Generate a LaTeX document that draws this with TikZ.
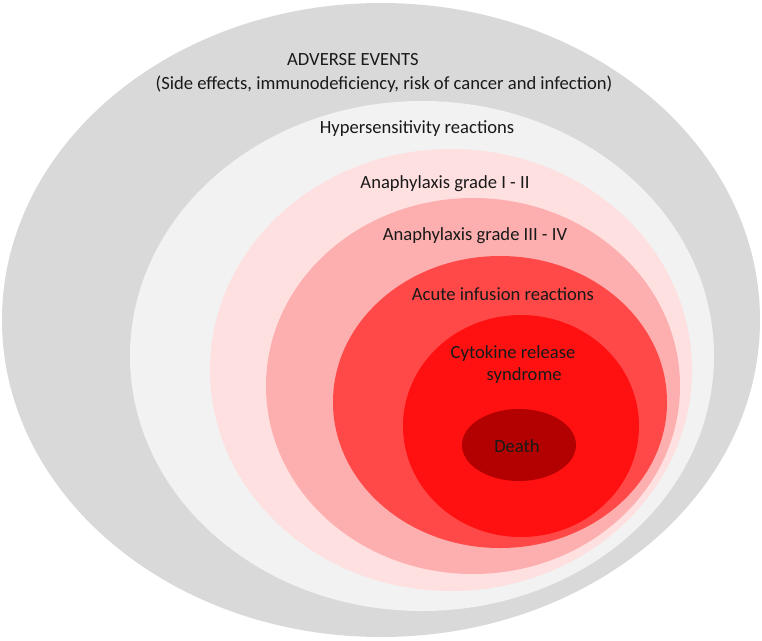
\documentclass[tikz,border=0pt]{standalone}
\usepackage{fontspec}
\setmainfont{Carlito}
\usetikzlibrary{shapes.geometric,positioning}
\definecolor{adversegray}{RGB}{217,217,217}
\definecolor{hyperlight}{RGB}{242,242,242}
\definecolor{anaonepink}{RGB}{255,224,224}
\definecolor{anathreepink}{RGB}{253,174,174}
\definecolor{acutered}{RGB}{255,72,72}
\definecolor{crsred}{RGB}{255,17,17}
\definecolor{deathred}{RGB}{179,0,0}

\begin{document}
\begin{tikzpicture}[
    x=1pt, y=-1pt,
    zone/.style={ellipse, draw=none, inner sep=0pt, outer sep=0pt},
    lbl/.style={font=\fontsize{18.6}{22}\selectfont, text=black!90, inner sep=0pt}
]
\useasboundingbox (0,0) rectangle (762,640);

% Nested zones
\node[zone, fill=adversegray, minimum width=758pt, minimum height=634pt] (adverse) at (381,320) {};
\node[zone, fill=hyperlight, minimum width=584pt, minimum height=510pt] (hyper) at (422,356) {};
\node[zone, fill=anaonepink, minimum width=482pt, minimum height=442pt] (anaone) at (451,370) {};
\node[zone, fill=anathreepink, minimum width=414pt, minimum height=376pt] (anathree) at (473,386) {};
\node[zone, fill=acutered, minimum width=334pt, minimum height=292pt] (acute) at (500,402) {};
\node[zone, fill=crsred, minimum width=236pt, minimum height=222pt] (crs) at (521,426) {};
\node[zone, fill=deathred, minimum width=114pt, minimum height=72pt] (death) at (519,445) {};

% Labels
\node[lbl] (adversetitle) at (353,60) {ADVERSE EVENTS};
\node[lbl] (adversesub) at (384,84) {(Side effects, immunodeficiency, risk of cancer and infection)};
\node[lbl] (hyperlbl) at (417,129) {Hypersensitivity reactions};
\node[lbl] (anaonelbl) at (445,184) {Anaphylaxis grade I - II};
\node[lbl] (anathreelbl) at (475,236) {Anaphylaxis grade III - IV};
\node[lbl] (acutelbl) at (503,294) {Acute infusion reactions};
\node[lbl, align=left] (crslbl) at (513,365) {Cytokine release\\\hspace*{36pt}syndrome};
\node[lbl] (deathlbl) at (517,446) {Death};

\end{tikzpicture}
\end{document}
